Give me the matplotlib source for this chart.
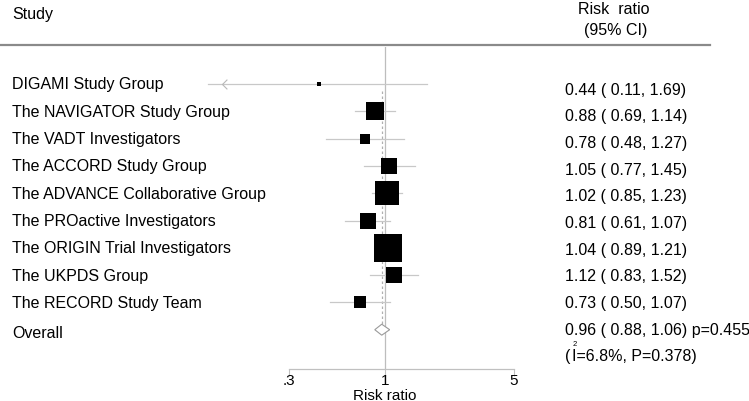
import numpy as np
import matplotlib
matplotlib.use("Agg")
import matplotlib.pyplot as plt
from matplotlib.path import Path
from matplotlib.transforms import blended_transform_factory

plt.rcParams["font.family"] = ["Liberation Sans", "DejaVu Sans"]

# ---- data ----
studies = [
    "DIGAMI Study Group",
    "The NAVIGATOR Study Group",
    "The VADT Investigators",
    "The ACCORD Study Group",
    "The ADVANCE Collaborative Group",
    "The PROactive Investigators",
    "The ORIGIN Trial Investigators",
    "The UKPDS Group",
    "The RECORD Study Team",
]
rr = [0.44, 0.88, 0.78, 1.05, 1.02, 0.81, 1.04, 1.12, 0.73]
lo = [0.11, 0.69, 0.48, 0.77, 0.85, 0.61, 0.89, 0.83, 0.50]
hi = [1.69, 1.14, 1.27, 1.45, 1.23, 1.07, 1.21, 1.52, 1.07]
weights = [0.4, 12.5, 3.9, 8.7, 20.4, 9.9, 30.2, 8.7, 5.5]  # approx, from box sizes

overall_rr, overall_lo, overall_hi = 0.96, 0.88, 1.06
overall_p = "0.455"
i2_value = "6.8%"
het_p = "0.378"

xticks = [0.3, 1, 5]
xtick_labels = [".3", "1", "5"]

# ---- layout (pixels) ----
W, H = 749, 402
DPI = 100
px_per_ln = 80.0
x_one = 385.0
ax_left, ax_right = 200, 540
ax_top, ax_bot = 48, 370
row0, row_step = 85.0, 27.3
txt0, txt_step = 90.0, 26.7   # right column rows sit on their own grid
fs = 11.5

fig = plt.figure(figsize=(W / DPI, H / DPI), dpi=DPI)
ax = fig.add_axes([ax_left / W, (H - ax_bot) / H,
                   (ax_right - ax_left) / W, (ax_bot - ax_top) / H])
ax.set_xscale("log")
ax.set_xlim(np.exp((ax_left - x_one) / px_per_ln), np.exp((ax_right - x_one) / px_per_ln))
ax.set_ylim((ax_bot - row0) / row_step, (ax_top - row0) / row_step)

rows = np.arange(len(studies))
overall_row = len(studies)


def txt_row(i):
    # convert right-column pixel grid into row units
    return (txt0 + txt_step * i - row0) / row_step


ci_col = "#c8c8c8"
# reference line at 1
ax.axvline(1, color="#bdbdbd", lw=0.9, zorder=1)
# overall dotted line
ax.plot([overall_rr, overall_rr], [0.25, overall_row], color="#b0b0b0",
        lw=0.9, ls=(0, (2, 2)), zorder=1)

for r, m, l, h, w in zip(rows, rr, lo, hi, weights):
    ax.plot([l, h], [r, r], color=ci_col, lw=0.9, zorder=2)
    side = 5.1 * np.sqrt(w)
    ax.plot([m], [r], marker="s", color="black", markersize=side * 72 / DPI,
            markeredgewidth=0, zorder=3)

# arrow for truncated DIGAMI CI
chev = Path([(1, 1), (0, 0), (1, -1)], [Path.MOVETO, Path.LINETO, Path.LINETO])
ax.plot([np.exp((222 - x_one) / px_per_ln)], [rows[0]], marker=chev, markersize=7,
        markerfacecolor="none", markeredgecolor="#b8b8b8", markeredgewidth=0.8, zorder=3)

# overall diamond
dh = 5.5 / row_step
ax.fill([overall_lo, overall_rr, overall_hi, overall_rr],
        [overall_row, overall_row - dh, overall_row, overall_row + dh],
        facecolor="white", edgecolor="#9a9a9a", lw=0.8, zorder=4)

for s in ["top", "right", "left"]:
    ax.spines[s].set_visible(False)
ax.spines["bottom"].set_bounds(xticks[0], xticks[-1])
ax.spines["bottom"].set_color("#c0c0c0")
ax.spines["bottom"].set_linewidth(0.9)
ax.set_yticks([])
ax.set_xticks(xticks)
ax.set_xticklabels(xtick_labels)
ax.xaxis.set_minor_locator(matplotlib.ticker.NullLocator())
ax.tick_params(axis="x", which="both", length=5, width=0.8, color="#c0c0c0",
               pad=-2, labelsize=11)
ax.patch.set_visible(False)
fig.text(385 / W, 1 - 396 / H, "Risk ratio", fontsize=11, ha="center", va="center")

# ---- texts ----
tr = blended_transform_factory(fig.transFigure, ax.transData)
for i, (r, name, m, l, h) in enumerate(zip(rows, studies, rr, lo, hi)):
    ax.text(12 / W, r, name, transform=tr, fontsize=fs, va="center", ha="left")
    ax.text(565 / W, txt_row(i), f"{m:.2f} ( {l:.2f}, {h:.2f})", transform=tr,
            fontsize=fs, va="center", ha="left")
ax.text(12 / W, overall_row + 0.1, "Overall", transform=tr, fontsize=fs, va="center")
ax.text(565 / W, txt_row(overall_row),
        f"{overall_rr:.2f} ( {overall_lo:.2f}, {overall_hi:.2f}) p={overall_p}",
        transform=tr, fontsize=fs, va="center")
het_row = txt_row(overall_row + 1)
ax.text(565 / W, het_row, "(", transform=tr, fontsize=fs, va="center")
ax.text(572 / W, het_row, f"I={i2_value}, P={het_p})", transform=tr,
        fontsize=fs, va="center")
ax.text(573 / W, het_row - 12 / row_step, "2", transform=tr, fontsize=5.5, va="center")

# header
fig.text(12 / W, 1 - 15 / H, "Study", fontsize=fs, va="center", ha="left")
fig.text(614 / W, 1 - 9 / H, "Risk  ratio", fontsize=fs, va="center", ha="center")
fig.text(616 / W, 1 - 30 / H, "(95% CI)", fontsize=fs, va="center", ha="center")
fig.add_artist(plt.Line2D([0, 710 / W], [1 - 46 / H, 1 - 46 / H],
                          color="#8a8a8a", lw=1.6))

fig.savefig("out.png", dpi=DPI)
